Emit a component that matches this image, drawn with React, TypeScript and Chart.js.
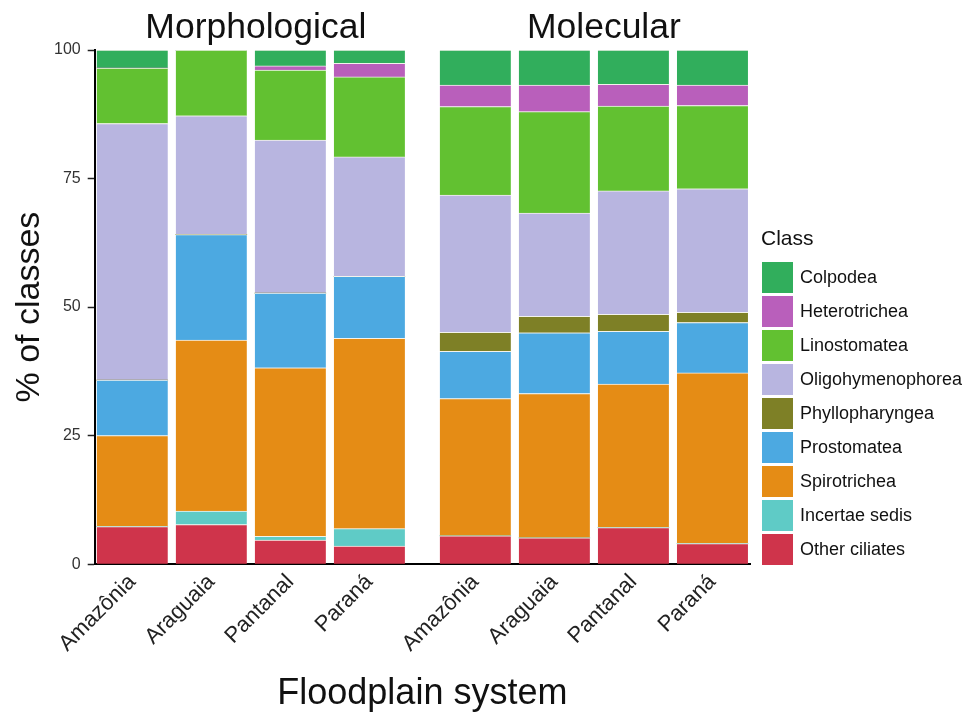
import React, { useEffect, useRef } from "react";
import { Chart, registerables } from "chart.js";

Chart.register(...registerables);

const groups = ["Morphological", "Molecular"];
const categories = ["Amazônia", "Araguaia", "Pantanal", "Paraná"];
const tickLabels = [...categories, ...categories];
const yTicks = [0, 25, 50, 75, 100];

// values per bar: Morphological (Amazônia, Araguaia, Pantanal, Paraná), Molecular (same order)
const colpodea = [3.5, 0, 3.1, 2.6, 6.8, 6.8, 6.7, 6.8];
const heterotrichea = [0, 0, 0.8, 2.6, 4.2, 5.2, 4.2, 4.0];
const linostomatea = [10.8, 12.8, 13.6, 15.6, 17.2, 19.7, 16.5, 16.2];
const oligohymenophorea = [49.9, 23.1, 29.8, 23.2, 26.7, 20.1, 24.0, 24.0];
const phyllopharyngea = [0, 0, 0, 0, 3.7, 3.2, 3.3, 2.0];
const prostomatea = [10.8, 20.5, 14.5, 12.1, 9.2, 11.8, 10.3, 9.8];
const spirotrichea = [17.7, 33.3, 32.8, 37.0, 26.7, 28.1, 27.9, 33.2];
const incertaeSedis = [0, 2.6, 0.7, 3.4, 0, 0, 0, 0];
const otherCiliates = [7.3, 7.7, 4.7, 3.5, 5.5, 5.1, 7.1, 4.0];

const classNames = [
  "Colpodea",
  "Heterotrichea",
  "Linostomatea",
  "Oligohymenophorea",
  "Phyllopharyngea",
  "Prostomatea",
  "Spirotrichea",
  "Incertae sedis",
  "Other ciliates",
];
const classValues = [
  colpodea,
  heterotrichea,
  linostomatea,
  oligohymenophorea,
  phyllopharyngea,
  prostomatea,
  spirotrichea,
  incertaeSedis,
  otherCiliates,
];
const classColors = [
  "#31ae5c",
  "#b95fbb",
  "#62c131",
  "#b8b5e0",
  "#7e8026",
  "#4ca9e1",
  "#e58c15",
  "#5fcbc6",
  "#cf344b",
];

const FONT = "'Liberation Sans', Arial, Helvetica, sans-serif";
const GROUP_GAP = 0.34;
const xPositions = tickLabels.map(
  (_, i) => (i % categories.length) + Math.floor(i / categories.length) * (categories.length + GROUP_GAP)
);
const facetTitleShift = [5, 10];

const facetTitles = {
  id: "facetTitles",
  afterDraw(chart: any) {
    const { ctx, chartArea } = chart;
    const xs = chart.scales.x;
    ctx.save();
    ctx.font = `35.5px ${FONT}`;
    ctx.fillStyle = "#111";
    ctx.textAlign = "center";
    ctx.textBaseline = "alphabetic";
    groups.forEach((g, gi) => {
      const pos = xPositions.slice(gi * categories.length, (gi + 1) * categories.length);
      const mid = (pos[0] + pos[pos.length - 1]) / 2;
      ctx.fillText(g, xs.getPixelForValue(mid) + facetTitleShift[gi], chartArea.top - 12);
    });
    ctx.restore();
  },
};

export default function App() {
  const ref = useRef<HTMLCanvasElement | null>(null);

  useEffect(() => {
    if (!ref.current) return;
    const order = classNames.map((_, i) => i).reverse(); // bottom of stack first
    const datasets = order.map((i) => ({
      label: classNames[i],
      data: classValues[i].map((v, k) => ({ x: xPositions[k], y: v })),
      backgroundColor: classColors[i],
      borderColor: "#f3f3ec",
      borderWidth: { top: 1, right: 0, bottom: 0, left: 0 },
      barThickness: 71,
    }));
    const chart = new Chart(ref.current, {
      type: "bar",
      data: { datasets },
      plugins: [facetTitles],
      options: {
        responsive: false,
        animation: false,
        layout: { padding: { left: 13, right: 214, top: 50, bottom: 1 } },
        plugins: {
          legend: { display: false },
          tooltip: { enabled: false },
        },
        scales: {
          x: {
            type: "linear",
            stacked: true,
            offset: false,
            min: xPositions[0] - 0.475,
            max: xPositions[xPositions.length - 1] + 0.475,
            afterBuildTicks: (scale: any) => {
              scale.ticks = xPositions.map((v) => ({ value: v }));
            },
            grid: { display: false, drawTicks: false, offset: false },
            border: { display: true, color: "#000", width: 2 },
            ticks: {
              autoSkip: false,
              minRotation: 45,
              maxRotation: 45,
              padding: 5,
              color: "#222",
              font: { family: FONT, size: 22 },
              callback: (_v: any, i: number) => tickLabels[i],
            },
            title: {
              display: true,
              text: "Floodplain system",
              color: "#111",
              font: { family: FONT, size: 36, lineHeight: 1 },
              padding: { top: 14, bottom: 0 },
            },
          },
          y: {
            stacked: true,
            min: 0,
            max: 100,
            afterBuildTicks: (scale: any) => {
              scale.ticks = yTicks.map((v) => ({ value: v }));
            },
            grid: {
              display: true,
              drawOnChartArea: false,
              drawTicks: true,
              tickLength: 7,
              tickColor: "#222",
              tickWidth: 1.5,
            },
            border: { display: true, color: "#000", width: 2 },
            ticks: {
              padding: 7,
              color: "#333",
              font: { family: FONT, size: 16 },
            },
            title: {
              display: true,
              text: "% of classes",
              color: "#111",
              font: { family: FONT, size: 34, lineHeight: 1 },
              padding: { top: 0, bottom: 0 },
            },
          },
        },
      } as any,
    });
    return () => chart.destroy();
  }, []);

  return (
    <div style={{ position: "fixed", left: 0, top: 0, width: 964, height: 713, background: "#fff" }}>
      <canvas ref={ref} width={964} height={713} style={{ display: "block" }} />
      <div
        style={{
          position: "absolute",
          left: 761,
          top: 225,
          fontFamily: FONT,
          fontSize: 21,
          lineHeight: "26px",
          color: "#111",
        }}
      >
        Class
      </div>
      {classNames.map((name, i) => (
        <div
          key={name}
          style={{
            position: "absolute",
            left: 762,
            top: 262 + i * 34,
            height: 31,
            display: "flex",
            alignItems: "center",
            fontFamily: FONT,
            fontSize: 18,
            color: "#111",
            whiteSpace: "nowrap",
          }}
        >
          <span style={{ width: 31, height: 31, background: classColors[i], display: "inline-block", marginRight: 7 }} />
          <span>{name}</span>
        </div>
      ))}
    </div>
  );
}
